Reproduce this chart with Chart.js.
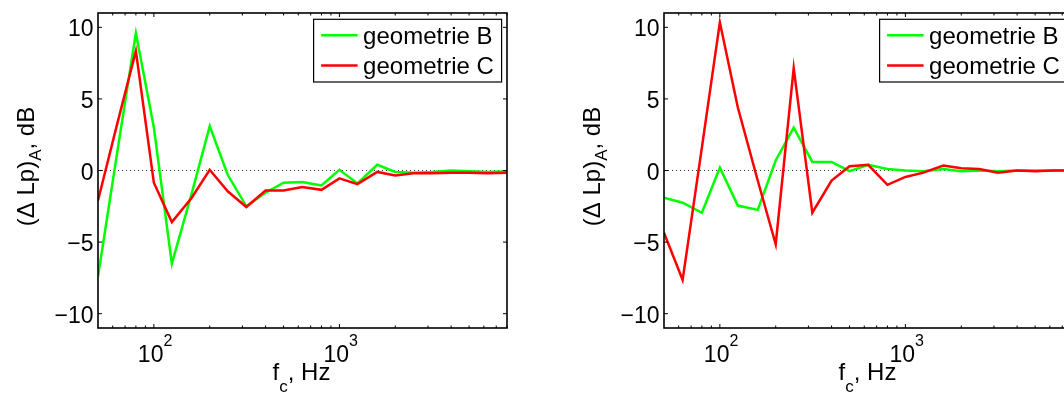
<!DOCTYPE html>
<html>
<head>
<meta charset="utf-8">
<script src="https://cdn.jsdelivr.net/npm/chart.js@4.4.1/dist/chart.umd.min.js"></script>
<style>
  html, body { margin: 0; padding: 0; background: #fff; overflow: hidden; width: 1064px; height: 394px; }
  canvas { position: absolute; top: 0; }
  #left { left: 0; }
  #right { left: 566px; }
</style>
</head>
<body>
<canvas id="left" width="532" height="394"></canvas>
<canvas id="right" width="532" height="394"></canvas>
<script>
// terzband-middenfrequenties (Hz)
const freqs = [50, 63, 80, 100, 125, 160, 200, 250, 315, 400, 500, 630, 800, 1000, 1250, 1600, 2000, 2500, 3150, 4000, 5000, 6300, 8000];

// linker figuur
const leftB = [-7.4, 1.0, 9.6, 3.0, -6.5, -1.6, 3.1, -0.3, -2.5, -1.55, -0.85, -0.8, -1.05, 0.05, -0.9, 0.4, -0.1, -0.15, -0.1, 0.0, -0.05, -0.1, -0.05];
const leftC = [-2.1, 3.1, 8.35, -0.85, -3.6, -1.9, 0.05, -1.45, -2.55, -1.4, -1.4, -1.15, -1.35, -0.55, -0.95, -0.1, -0.35, -0.2, -0.2, -0.15, -0.15, -0.2, -0.15];

// rechter figuur
const rightB = [-1.9, -2.25, -2.95, 0.2, -2.45, -2.75, 0.7, 3.0, 0.6, 0.6, -0.05, 0.4, 0.1, 0.0, -0.05, 0.1, -0.05, 0.0, -0.05, 0.0, 0.0, 0.0, 0.0];
const rightC = [-4.35, -7.65, 1.6, 10.35, 4.4, -0.7, -5.15, 7.15, -2.95, -0.7, 0.3, 0.4, -1.0, -0.45, -0.15, 0.35, 0.15, 0.1, -0.15, 0.0, -0.05, 0.0, 0.0];

// gestippelde nullijn
const zeroFreqs = [50, 8000];
const zeroLine = [0, 0];

// assen
const yTicks = [-10, -5, 0, 5, 10];
const xTicks = [100, 1000];
const xTickExp = ['2', '3'];
const minorX = [60, 70, 80, 90, 200, 300, 400, 500, 600, 700, 800, 900, 2000, 3000, 4000, 5000, 6000, 7000, 8000];

const FONT = '"Liberation Sans", Arial, Helvetica, sans-serif';

function toPoints(xs, ys) {
    return xs.map((f, i) => ({ x: f, y: ys[i] }));
}

// tekst met sub/superscript stukjes: [tekst, grootte, verschuiving]
function partsWidth(ctx, parts) {
    let w = 0;
    parts.forEach(p => { ctx.font = p[1] + 'px ' + FONT; w += ctx.measureText(p[0]).width; });
    return w;
}
function drawParts(ctx, parts, x, y) {
    parts.forEach(p => {
        ctx.font = p[1] + 'px ' + FONT;
        ctx.fillText(p[0], x, y + p[2]);
        x += ctx.measureText(p[0]).width;
    });
}

// MATLAB-achtige assen: kader, ticks naar binnen, labels en legenda
const matlabAxes = {
    id: 'matlabAxes',
    afterDraw(chart) {
        const ctx = chart.ctx;
        const a = chart.chartArea;
        const xs = chart.scales.x, ys = chart.scales.y;
        ctx.save();
        ctx.strokeStyle = '#000';
        ctx.fillStyle = '#000';

        // ticks
        ctx.lineWidth = 1;
        ctx.beginPath();
        yTicks.forEach(v => {
            const py = ys.getPixelForValue(v);
            ctx.moveTo(a.left, py); ctx.lineTo(a.left + 4, py);
            ctx.moveTo(a.right, py); ctx.lineTo(a.right - 4, py);
        });
        xTicks.forEach(v => {
            const px = xs.getPixelForValue(v);
            ctx.moveTo(px, a.bottom); ctx.lineTo(px, a.bottom - 4);
            ctx.moveTo(px, a.top); ctx.lineTo(px, a.top + 4);
        });
        minorX.forEach(v => {
            const px = xs.getPixelForValue(v);
            ctx.moveTo(px, a.bottom); ctx.lineTo(px, a.bottom - 2.5);
            ctx.moveTo(px, a.top); ctx.lineTo(px, a.top + 2.5);
        });
        ctx.stroke();

        // kader
        ctx.lineWidth = 1.6;
        ctx.strokeRect(a.left, a.top, a.right - a.left, a.bottom - a.top);

        // y tick labels
        ctx.font = '23px ' + FONT;
        ctx.textAlign = 'right';
        ctx.textBaseline = 'alphabetic';
        yTicks.forEach(v => {
            const py = ys.getPixelForValue(v);
            ctx.fillText(String(v).replace('-', '\u2212'), a.left - 4.5, py + 9);
        });

        // x tick labels 10^n
        ctx.textAlign = 'left';
        xTicks.forEach((v, i) => {
            const px = xs.getPixelForValue(v);
            const parts = [['10', 23, 0], [xTickExp[i], 16, -16]];
            drawParts(ctx, parts, px - 16, a.bottom + 34);
        });

        // x titel
        const xt = [['f', 24, 0], ['c', 17, 12], [', Hz', 24, 0]];
        const xtw = partsWidth(ctx, xt);
        drawParts(ctx, xt, (a.left + a.right) / 2 - xtw / 2 - 1, a.bottom + 52);

        // y titel
        const yt = [['(\u0394 Lp)', 24, 0], ['A', 17, 7], [', dB', 24, 0]];
        const ytw = partsWidth(ctx, yt);
        ctx.save();
        ctx.translate(34, 166.5 + ytw / 2);
        ctx.rotate(-Math.PI / 2);
        drawParts(ctx, yt, 0, 0);
        ctx.restore();

        // legenda
        const lx = a.left + 215.6, ly = a.top + 6.3, lw = 188, lh = 62.7;
        ctx.fillStyle = '#fff';
        ctx.fillRect(lx, ly, lw, lh);
        ctx.lineWidth = 1.2;
        ctx.strokeStyle = '#000';
        ctx.strokeRect(lx, ly, lw, lh);
        const rows = [chart.data.datasets[0], chart.data.datasets[1]];
        rows.forEach((ds, i) => {
            const ry = ly + 16 + i * 30.3;
            ctx.strokeStyle = ds.borderColor;
            ctx.lineWidth = 2.5;
            ctx.beginPath();
            ctx.moveTo(lx + 7.5, ry); ctx.lineTo(lx + 44, ry);
            ctx.stroke();
            ctx.fillStyle = '#000';
            ctx.font = '24px ' + FONT;
            ctx.fillText(ds.label, lx + 49.5, ry + 8.5);
        });
        ctx.restore();
    }
};

function makeChart(id, dataB, dataC) {
    return new Chart(document.getElementById(id), {
        type: 'line',
        data: {
            datasets: [
                {
                    label: 'geometrie B',
                    data: toPoints(freqs, dataB),
                    borderColor: '#00ff00',
                    borderWidth: 2.5,
                    pointRadius: 0,
                    tension: 0,
                    order: 2
                },
                {
                    label: 'geometrie C',
                    data: toPoints(freqs, dataC),
                    borderColor: '#ff0000',
                    borderWidth: 2.5,
                    pointRadius: 0,
                    tension: 0,
                    order: 1
                },
                {
                    label: 'nul',
                    data: toPoints(zeroFreqs, zeroLine),
                    borderColor: '#333',
                    borderWidth: 1,
                    borderDash: [1, 3],
                    pointRadius: 0,
                    order: 3
                }
            ]
        },
        options: {
            responsive: false,
            animation: false,
            events: [],
            layout: { padding: { left: 98, right: 25, top: 13, bottom: 66 } },
            plugins: { legend: { display: false }, tooltip: { enabled: false } },
            scales: {
                x: { type: 'logarithmic', min: 50, max: 8000, display: false },
                y: { type: 'linear', min: -11, max: 11, display: false }
            }
        },
        plugins: [matlabAxes]
    });
}

makeChart('left', leftB, leftC);
makeChart('right', rightB, rightC);
</script>
</body>
</html>
